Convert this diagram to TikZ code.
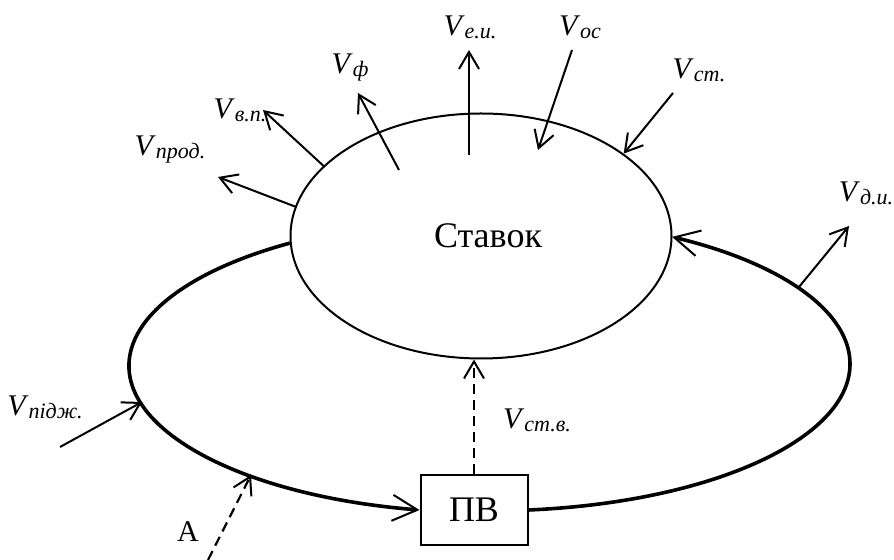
\documentclass[tikz,border=0pt]{standalone}
\usepackage{fontspec}
\setmainfont{Liberation Serif}
\usetikzlibrary{shapes.geometric}
\usetikzlibrary{arrows.meta}
\usetikzlibrary{positioning}

\newcommand{\vel}[1]{\textit{V}\raisebox{-1.5pt}{\fontsize{11}{11}\selectfont\textit{#1}}}

\tikzset{
  lbl/.style={inner sep=1pt, font=\fontsize{15}{18}\selectfont},
  pond/.style={ellipse, draw, line width=1pt, inner sep=0pt,
    minimum width=190.5pt, minimum height=122.5pt, font=\fontsize{18}{21}\selectfont},
  pvbox/.style={rectangle, draw, line width=1pt, fill=white, inner sep=0pt,
    minimum width=53.5pt, minimum height=35pt, font=\fontsize{18}{21}\selectfont},
  flow/.style={line width=1pt, -{Straight Barb[length=8.5pt,width=10pt,line width=1pt]}},
  seep/.style={flow, line width=1.1pt, dash pattern=on 5pt off 3pt},
  loopin/.style={line width=1.8pt, {Straight Barb[length=12.5pt,width=13pt,line width=1pt]}-},
  loopout/.style={line width=1.8pt, -{Straight Barb[length=12.5pt,width=13pt,line width=1pt]}}
}

\begin{document}
\begin{tikzpicture}[x=0.5pt, y=-0.5pt]
\useasboundingbox (0,0) rectangle (894,560);

\node[pond] (pond) at (481,236) {\hspace*{7pt}Ставок};
\node[pvbox] (pv) at (474,510) {ПВ};

% outer loop
\draw[loopin] (pv.west) arc[start angle=259, end angle=123.5, x radius=179.5pt, y radius=73.5pt];
\draw[loopout] (pv.east) arc[start angle=276, end angle=419.7, x radius=179.5pt, y radius=73.5pt];

\coordinate (eu1) at (469,155);
\coordinate (eu2) at (469,50);
\coordinate (oc1) at (572,50);
\coordinate (oc2) at (538,150);
\coordinate (f1) at (399,170);
\coordinate (f2) at (358,93);
\coordinate (vp2) at (263,110);
\coordinate (prod2) at (218,177);
\coordinate (st1) at (673,93);
\coordinate (di1) at (799,287);
\coordinate (di2) at (849,226);
\coordinate (pidzh1) at (60,447);
\coordinate (pidzh2) at (142,402);
\coordinate (a1) at (208,560);
\coordinate (a2) at (251,475);

\draw[flow] (eu1) -- (eu2);
\draw[flow] (oc1) -- (oc2);
\draw[flow] (f1) -- (f2);
\draw[flow] (pond.156) -- (vp2);
\draw[flow] (pond.171) -- (prod2);
\draw[flow] (st1) -- (pond.30);
\draw[flow] (di1) -- (di2);
\draw[flow] (pidzh1) -- (pidzh2);
\draw[seep] (a1) -- (a2);
\draw[seep] (pv.north) -- (pv.north |- pond.south);

\node[lbl] (leu) at (470,27) {\vel{е.и.}};
\node[lbl] (loc) at (580,27) {\vel{ос}};
\node[lbl] (lf) at (350,68) {\vel{ф}};
\node[lbl] (lvp) at (240,110) {\vel{в.п.}};
\node[lbl] (lprod) at (170,150) {\vel{прод.}};
\node[lbl] (lst) at (699,70) {\vel{ст.}};
\node[lbl] (ldi) at (866,193) {\vel{д.и.}};
\node[lbl] (lpidzh) at (45,407) {\vel{підж.}};
\node[lbl] (lstv) at (537,420) {\vel{ст.в.}};
\node[lbl] (la) at (188,532) {А};

\end{tikzpicture}
\end{document}
